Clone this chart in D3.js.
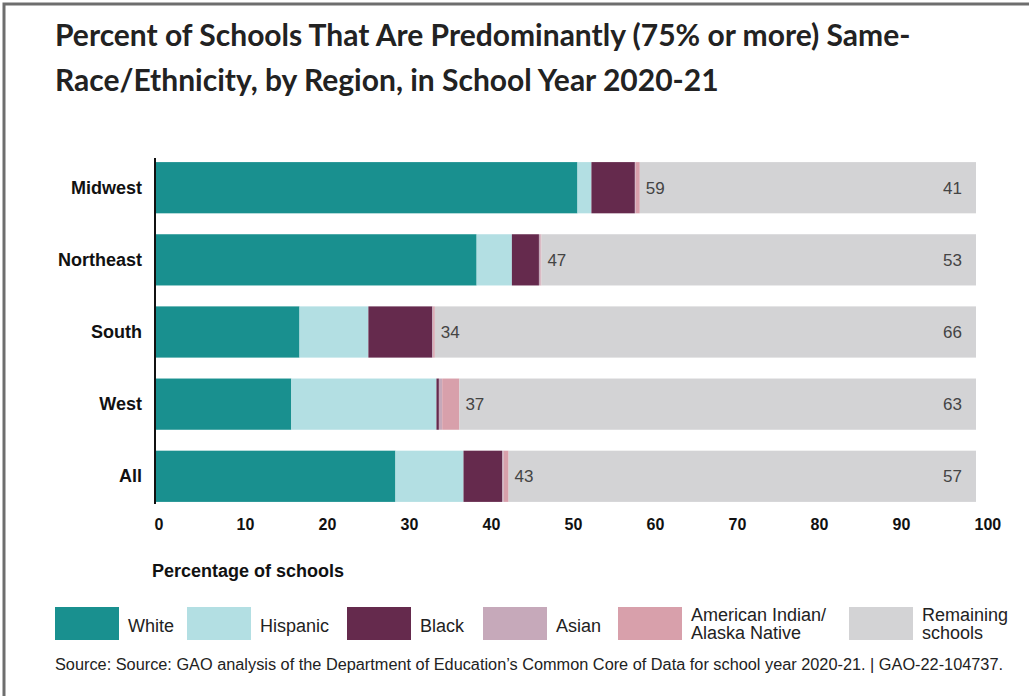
<!DOCTYPE html>
<html><head><meta charset="utf-8">
<script src="https://cdn.jsdelivr.net/npm/d3@7"></script>
<style>body{margin:0;background:#fff}svg{display:block}</style>
</head><body>
<svg id="c" width="1029" height="696"></svg>
<script>
const regions = ["Midwest","Northeast","South","West","All"];
const seriesNames = ["White","Hispanic","Black","Asian","American Indian/Alaska Native","Remaining schools"];
const white    = [51.4, 39.1, 17.5, 16.5, 29.2];
const hispanic = [1.7, 4.3, 8.4, 17.7, 8.3];
const black    = [5.3, 3.3, 7.8, 0.3, 4.7];
const asian    = [0.1, 0.2, 0.1, 0.4, 0.2];
const aian     = [0.5, 0.1, 0.2, 2.1, 0.6];
const totals   = [59, 47, 34, 37, 43];
const remaining= [41, 53, 66, 63, 57];
const xTicks = [0,10,20,30,40,50,60,70,80,90,100];
const colors = ["#19908f","#b3dfe3","#652a4d","#c6a9ba","#d8a0ab","#d3d3d5"];

const svg = d3.select("#c");
const font = "'Liberation Sans', Arial, sans-serif";

// frame
svg.append("rect").attr("x",4).attr("y",4).attr("width",1060).attr("height",720)
  .attr("fill","none").attr("stroke","#6e6e6e").attr("stroke-width",3);

// title
const title = svg.append("text").attr("fill","#222")
  .style("font-family","Lato, sans-serif").style("font-weight","bold").style("font-size","30px");
title.append("tspan").attr("x",55).attr("y",46).text("Percent of Schools That Are Predominantly (75% or more) Same-");
title.append("tspan").attr("x",55).attr("y",91).text("Race/Ethnicity, by Region, in School Year 2020-21");

const x = d3.scaleLinear().domain([0,100]).range([156,976]);
const y = d3.scaleBand().domain(regions).range([152,512]).paddingInner(0.29).paddingOuter(0.14);

const rows = regions.map((r,i)=>({region:r, v:[white[i],hispanic[i],black[i],asian[i],aian[i],remaining[i]]}));
const stackData = rows.map(d=>{const o={region:d.region}; seriesNames.forEach((s,k)=>o[s]=d.v[k]); return o;});
const stack = d3.stack().keys(seriesNames)(stackData);

svg.append("g").selectAll("g").data(stack).join("g").attr("fill",(d,i)=>colors[i])
  .selectAll("rect").data(d=>d).join("rect")
  .attr("x",d=>x(d[0])).attr("width",d=>Math.max(0,x(d[1])-x(d[0])))
  .attr("y",d=>y(d.data.region)).attr("height",y.bandwidth());

// axis line
svg.append("line").attr("x1",x(0)-1).attr("x2",x(0)-1).attr("y1",y.range()[0]+6).attr("y2",y.range()[1]-8)
  .attr("stroke","#111").attr("stroke-width",2);

// category labels
svg.append("g").selectAll("text").data(regions).join("text")
  .attr("x",142).attr("y",d=>y(d)+y.bandwidth()/2+6).attr("text-anchor","end")
  .style("font-family",font).style("font-weight","bold").style("font-size","18px").attr("fill","#111").text(d=>d);

// total labels
svg.append("g").selectAll("text").data(totals).join("text")
  .attr("x",(d)=>x(d)+6).attr("y",(d,i)=>y(regions[i])+y.bandwidth()/2+6)
  .style("font-family",font).style("font-size","17px").attr("fill","#444").text(d=>d);
svg.append("g").selectAll("text").data(remaining).join("text")
  .attr("x",x(100)-14).attr("y",(d,i)=>y(regions[i])+y.bandwidth()/2+6).attr("text-anchor","end")
  .style("font-family",font).style("font-size","17px").attr("fill","#444").text(d=>d);

// x axis
const ax = svg.append("g").attr("transform","translate(0,530)")
  .call(d3.axisBottom(x).tickValues(xTicks).tickSize(0).tickPadding(0));
ax.select(".domain").remove();
ax.selectAll("text").attr("y",0).attr("dy",null).attr("text-anchor","start").attr("x",-2)
  .style("font-family",font).style("font-weight","bold").style("font-size","16px").attr("fill","#111");

svg.append("text").attr("x",152).attr("y",577).style("font-family",font).style("font-weight","bold")
  .style("font-size","18px").attr("fill","#111").text("Percentage of schools");

// legend
const legendX = [55,187,347,483,618,849];
const legendLabels = [["White"],["Hispanic"],["Black"],["Asian"],["American Indian/","Alaska Native"],["Remaining","schools"]];
const lg = svg.append("g").selectAll("g").data(seriesNames).join("g")
  .attr("transform",(d,i)=>`translate(${legendX[i]},607)`);
lg.append("rect").attr("width",64).attr("height",33).attr("fill",(d,i)=>colors[i]);
lg.each(function(d,i){
  const t = d3.select(this).append("text")
    .style("font-family",font).style("font-size","18px").attr("fill","#222");
  const lines = legendLabels[i];
  lines.forEach((l,k)=>{
    t.append("tspan").attr("x",73).attr("y", lines.length===1 ? 25 : 14 + k*18).text(l);
  });
});

svg.append("text").attr("x",55).attr("y",670).attr("textLength",948).attr("lengthAdjust","spacingAndGlyphs")
  .style("font-family",font).style("font-size","16px").attr("fill","#222")
  .text("Source: Source: GAO analysis of the Department of Education’s Common Core of Data for school year 2020-21.  |  GAO-22-104737.");
</script>
</body></html>
